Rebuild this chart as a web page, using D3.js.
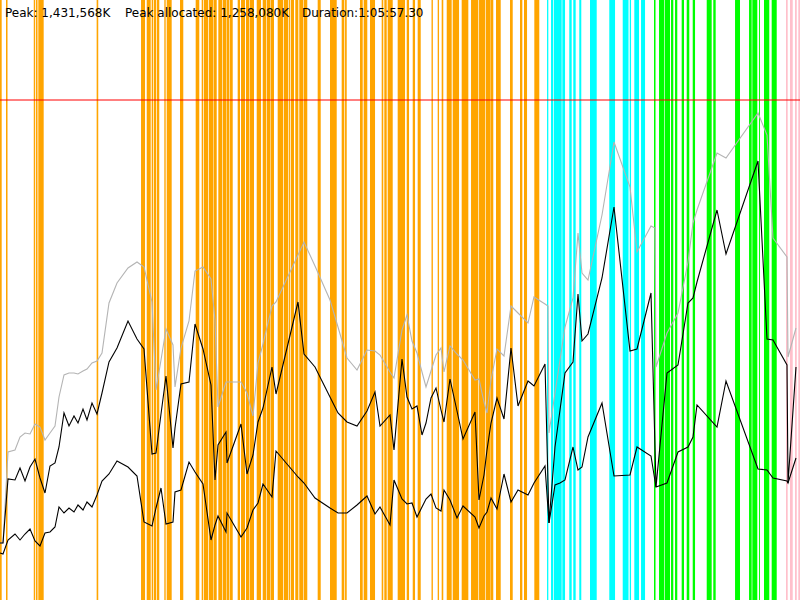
<!DOCTYPE html>
<html>
<head>
<meta charset="utf-8">
<script src="https://cdn.jsdelivr.net/npm/d3@7"></script>
<style>
body { margin: 0; background: white; }
svg { display: block; }
</style>
</head>
<body>
<svg width="800" height="600"></svg>
<script>
var svgWidth = 800;
var svgHeight = 600;

// time is % of the run duration, memory in MB (thousands of K)
var peakText = "Peak: 1,431,568K";
var peakAllocText = "Peak allocated: 1,258,080K";
var durationText = "Duration:1:05:57.30";
var heapLimit = 1500;

var times = [0, 0.375, 1, 1.875, 2.5, 3.125, 3.75, 4.375, 5, 5.625, 6.25, 6.875, 7.375, 8, 8.625, 9.25, 9.75, 10.375, 10.875, 11.5,
    12.125, 12.75, 13.625, 14.625, 16, 17.125, 18, 19, 19.5, 20.125, 20.75, 21.625, 21.875, 22.625, 23.625, 24.375, 25.375, 26.375, 26.875, 27.25,
    28.25, 28.375, 30.125, 30.875, 31.625, 32.25, 32.875, 34, 34.5, 37.25, 38, 39.375, 41.25, 42.25, 43.375, 44.625, 45.875, 46.875, 47.5, 48.75,
    49.25, 50.25, 50.875, 51.5, 52.125, 52.75, 53.25, 53.875, 54.5, 55.125, 55.5, 56.25, 57.125, 57.875, 59.375, 59.875, 60.5, 60.875, 61.375, 62.125,
    63, 63.875, 64.75, 66, 66.75, 68.125, 68.5, 68.625, 69.375, 70, 70.625, 71.625, 72.25, 72.75, 73.5, 75.25, 76.75, 78.75, 79.625, 81.375,
    81.875, 82, 83.375, 84.75, 86, 86.625, 87.125, 89.625, 90.75, 94.75, 95.875, 96.625, 98.375, 98.5, 99.5];

var committed = [171, 171, 444, 450, 489, 501, 498, 528, 519, 480, 501, 522, 609, 675, 681, 681, 678, 687, 693, 711,
    717, 741, 891, 951, 996, 1014, 999, 894, 630, 720, 813, 765, 639, 756, 837, 987, 999, 963, 840, 579,
    654, 654, 654, 621, 552, 711, 768, 882, 894, 1035, 1074, 1002, 900, 819, 726, 690, 750, 747, 735, 684,
    666, 810, 855, 777, 741, 684, 639, 687, 735, 756, 684, 762, 738, 720, 660, 663, 594, 561, 660, 753,
    732, 882, 861, 831, 909, 888, 882, 501, 621, 720, 819, 906, 1101, 981, 960, 1155, 1374, 1239, 1044, 1122,
    1116, 699, 801, 861, 1014, 1131, 1170, 1341, 1326, 1461, 1395, 1086, 1029, 729, 816];

var allocated = [171, 171, 363, 360, 396, 357, 399, 423, 366, 321, 402, 411, 459, 561, 522, 552, 531, 573, 540, 591,
    558, 621, 714, 756, 837, 783, 753, 438, 441, 558, 672, 456, 516, 648, 654, 828, 753, 645, 360, 465,
    504, 411, 528, 378, 435, 534, 576, 699, 618, 894, 738, 699, 609, 561, 534, 522, 567, 624, 522, 555,
    450, 723, 609, 573, 582, 495, 531, 606, 636, 570, 534, 663, 567, 483, 564, 300, 375, 450, 531, 606,
    543, 756, 582, 657, 642, 708, 351, 231, 459, 570, 681, 714, 918, 777, 798, 966, 1179, 747, 753, 921,
    456, 339, 681, 705, 891, 906, 954, 1170, 1038, 1317, 783, 780, 705, 351, 699];

var afterGc = [141, 138, 180, 198, 180, 198, 213, 177, 162, 201, 204, 219, 279, 261, 276, 264, 285, 270, 294, 279,
    315, 357, 378, 417, 399, 372, 234, 222, 276, 336, 228, 234, 324, 330, 414, 384, 348, 180, 225, 252,
    204, 261, 189, 216, 270, 291, 348, 309, 447, 369, 351, 306, 276, 261, 261, 285, 312, 258, 279, 225,
    360, 303, 288, 291, 249, 279, 303, 318, 276, 267, 330, 300, 246, 282, 249, 216, 252, 264, 306, 273,
    378, 294, 330, 315, 351, 402, 273, 231, 345, 351, 360, 459, 390, 399, 489, 591, 372, 375, 459, 432,
    357, 339, 351, 444, 459, 489, 585, 519, 657, 393, 390, 366, 357, 351, 426];

// GC events [start, end] per collector phase
var orangeEvents = [[0, 0.21], [0.75, 0.94], [4.22, 4.4], [4.5, 4.69], [4.79, 5.46], [12.08, 12.28],
    [17.63, 18.13], [18.34, 18.84], [18.96, 19.16], [19.25, 19.5], [19.59, 19.91], [20.54, 20.71], [20.84, 21.46],
    [22.5, 22.91], [24.46, 24.91], [25.21, 25.41], [25.5, 26], [26.09, 26.63], [26.69, 27.09], [27.29, 27.75],
    [27.83, 28.25], [28.31, 28.63], [28.7, 29.09], [29.71, 30], [30.13, 30.63], [30.75, 31.13], [31.2, 31.75],
    [32.09, 32.63], [32.84, 33.25], [33.33, 33.75], [33.81, 34.25], [34.71, 35.41], [35.5, 36.04], [36.13, 36.25],
    [36.34, 36.75], [36.91, 37.29], [37.41, 37.88], [37.95, 38.41], [39.71, 40.09], [41.25, 42.09], [42.71, 43.04],
    [43.13, 43.34], [45, 45.34], [45.46, 45.91], [46.25, 46.88], [47.71, 47.91], [48.04, 48.34], [48.46, 49.09],
    [49.71, 50.63], [50.84, 51.13], [51.59, 51.88], [52.21, 52.59], [53.94, 54.11], [54.71, 54.88], [55.21, 55.41],
    [55.84, 56.46], [56.59, 57.38], [57.71, 58.54], [58.88, 59.79], [59.88, 60.63], [60.71, 61.25], [61.29, 61.66],
    [62, 62.59], [63.75, 64.09], [65, 65.29], [65.5, 65.88], [66.79, 67.41]];

var cyanEvents = [[68.38, 68.54], [68.88, 69.16], [69.25, 70.21], [70.29, 70.63], [71.16, 71.46], [71.66, 71.96],
    [72.41, 72.66], [73.75, 74.59], [76.16, 76.88], [77.84, 78.5], [78.56, 78.66], [78.75, 78.88], [79.29, 79.88],
    [80.13, 80.63]];

var greenEvents = [[81.75, 81.94], [82.38, 83], [83.08, 83.75], [83.88, 84.16], [84.38, 84.66], [85.21, 85.5],
    [85.84, 86.16], [86.59, 86.88], [88.34, 88.96], [89.16, 89.46], [91.88, 92.5], [93.63, 93.96], [94.04, 94.66],
    [94.88, 95], [95.5, 96.16], [96.46, 97.09]];

var pinkEvents = [[98.25, 98.46], [98.75, 99.09], [99.38, 99.59], [99.79, 100]];

var x = d3.scaleLinear().domain([0, 100]).range([0, svgWidth]);
var y = d3.scaleLinear().domain([0, 1800]).range([svgHeight, 0]);

var svg = d3.select("svg");

function drawEvents(events, color) {
    svg.append("g")
        .selectAll("rect")
        .data(events)
        .enter()
        .append("rect")
        .attr("x", (d) => { return x(d[0]); })
        .attr("y", 0)
        .attr("width", (d) => { return x(d[1]) - x(d[0]); })
        .attr("height", svgHeight)
        .attr("fill", color);
}

drawEvents(orangeEvents, "#ffa500");
drawEvents(cyanEvents, "#00ffff");
drawEvents(greenEvents, "#00ff00");
drawEvents(pinkEvents, "#ffc0cb");

svg.append("line")
    .attr("x1", 0)
    .attr("x2", svgWidth)
    .attr("y1", y(heapLimit))
    .attr("y2", y(heapLimit))
    .attr("stroke", "#ff0000")
    .attr("stroke-width", 1);

function drawSeries(values, color) {
    var lineFunction = d3.line()
        .x((d, i) => { return x(times[i]); })
        .y((d) => { return y(d); });
    svg.append("path")
        .attr("d", lineFunction(values))
        .attr("stroke", color)
        .attr("stroke-width", 1.1)
        .attr("fill", "none");
}

drawSeries(committed, "#b4b4b4");
drawSeries(allocated, "#000000");
drawSeries(afterGc, "#000000");

var labels = [
    {text: peakText, x: 5},
    {text: peakAllocText, x: 125},
    {text: durationText, x: 302}
];
svg.append("g")
    .selectAll("text")
    .data(labels)
    .enter()
    .append("text")
    .attr("x", (d) => { return d.x; })
    .attr("y", 17)
    .attr("font-family", "DejaVu Sans, sans-serif")
    .attr("font-size", 12)
    .attr("fill", "black")
    .text((d) => { return d.text; });
</script>
</body>
</html>
